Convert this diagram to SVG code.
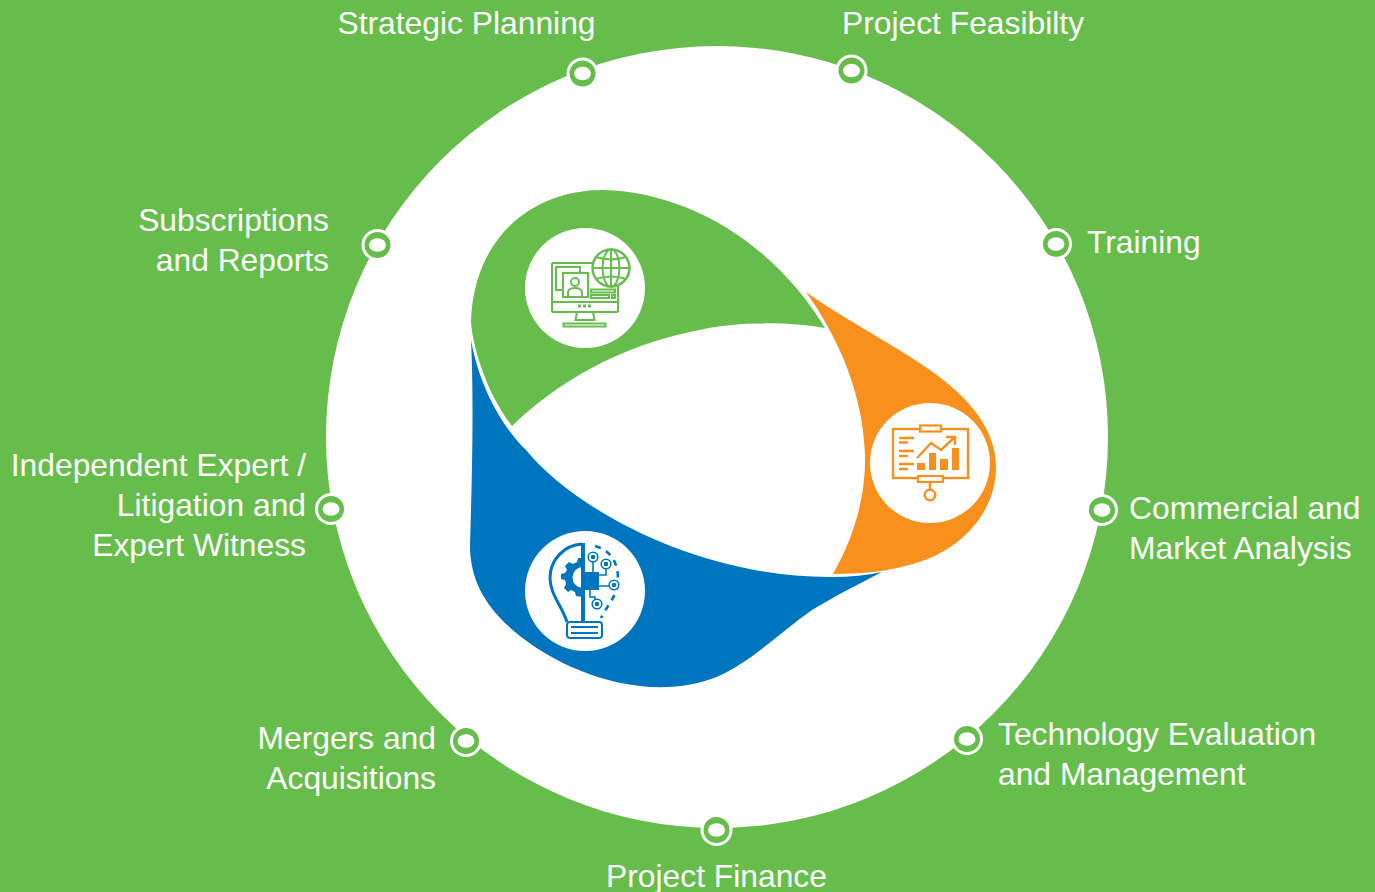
<svg xmlns="http://www.w3.org/2000/svg" width="1375" height="892" viewBox="0 0 1375 892">
<style>
.t{font-family:"Liberation Sans",Arial,sans-serif;font-size:31.800px;fill:#fff}
.e{text-anchor:end}
.m{text-anchor:middle}
.g{fill:none;stroke:#67bd4b;stroke-width:2}
.gf{fill:#fff;stroke:#67bd4b;stroke-width:2}
.o{fill:none;stroke:#f8901e;stroke-width:2.400}
.of{fill:#fff;stroke:#f8901e;stroke-width:2.200}
.ob{fill:#f8901e}
.b{fill:none;stroke:#0075bf;stroke-width:1.600}
.bf{fill:#fff;stroke:#0075bf;stroke-width:1.600}
.bc{fill:#0075bf}
</style>
<defs>
<g id="dot"><circle r="16" fill="#fff"/><circle r="13" fill="#67bd4b"/><ellipse rx="8.500" ry="6.800" fill="#fff"/></g>
<g id="node-c"><circle r="4.800" class="bf"/><circle r="2.300" class="bc"/></g>
</defs>
<rect width="1375" height="892" fill="#67bd4b"/>
<circle id="ring" cx="717" cy="437" r="391" fill="#fff"/>
<g id="blade-blue"><path d="M471 340C480 390 505 430 526 450C575 510 700 578 832 577Q860 577 882 572C855 586 835 596 812 610C775 636 745 668 708 680C640 702 560 670 515 632C485 606 470 580 470 545C472 480 474 400 471 340Z" fill="#0075bf"/></g>
<g id="blade-green"><path d="M512 426C488 395 473 350 471 322C473 240 530 190 603 190C690 192 775 245 825 328C790 322 740 320 690 332C620 347 560 380 512 426Z" fill="#67bd4b"/></g>
<g id="blade-orange"><path d="M806 292C845 320 890 342 930 370C970 398 996 430 996 467C996 510 965 545 925 560C895 571 865 574 833 574C855 535 866 495 865 455C863 395 840 340 806 292Z" fill="#f8901e"/></g>
<g id="icon-green">
<circle cx="585" cy="288" r="60" fill="#fff"/>
<rect x="552" y="263" width="66" height="49" rx="1" class="g"/>
<line x1="552" y1="302" x2="618" y2="302" class="g"/>
<rect x="556" y="267" width="24" height="23" class="g"/>
<rect x="563" y="273" width="25" height="24" class="gf"/>
<circle cx="575" cy="282" r="4" class="g"/>
<path d="M568 296v-4q1-4 7-4t7 4v4" class="g"/>
<rect x="591" y="289.500" width="24" height="3" class="g"/>
<rect x="591" y="295" width="18" height="3" class="g"/>
<rect x="612" y="295" width="3" height="3" class="g"/>
<rect x="578" y="304.500" width="3" height="3" fill="#67bd4b"/>
<rect x="583" y="304.500" width="3" height="3" fill="#67bd4b"/>
<rect x="588" y="304.500" width="3" height="3" fill="#67bd4b"/>
<path d="M577 312l-1.500 8h19l-1.500-8" class="g"/>
<rect x="563.500" y="323.500" width="42" height="3" class="g"/>
<circle cx="611" cy="268" r="18.500" fill="#fff" stroke="#67bd4b" stroke-width="2.400"/>
<ellipse cx="611" cy="268" rx="8.500" ry="18.500" class="g"/>
<line x1="611" y1="249.500" x2="611" y2="286.500" class="g"/>
<line x1="592.500" y1="268" x2="629.500" y2="268" class="g"/>
<path d="M596 257q15 5 30 0M596 279q15-5 30 0" class="g"/>
</g>
<g id="icon-orange">
<circle cx="930" cy="463" r="60" fill="#fff"/>
<rect x="893" y="429" width="75" height="49" class="o"/>
<rect x="920" y="425.500" width="21" height="6" class="of"/>
<rect x="918" y="476" width="25" height="6" class="of"/>
<line x1="930" y1="482" x2="930" y2="490" class="o"/>
<circle cx="930" cy="495" r="5.300" class="o"/>
<path d="M899 438h15M899 442.500h9M899 451h15M899 456h9M899 464h15M899 469h9" class="o"/>
<rect class="ob" x="917" y="463" width="8" height="7"/>
<rect class="ob" x="929" y="453" width="7" height="17"/>
<rect class="ob" x="940" y="459" width="8" height="11"/>
<rect class="ob" x="952" y="448" width="7" height="22"/>
<path d="M917 458l14-15 10 7 14-13M946 437h9v8" class="o"/>
</g>
<g id="icon-blue">
<circle cx="585" cy="591" r="60" fill="#fff"/>
<path d="M582 544C564 545 550 560 550 578C550 594 562 606 567 622" fill="none" stroke="#0075bf" stroke-width="3"/>
<line x1="583" y1="543" x2="583" y2="622" stroke="#0075bf" stroke-width="4"/>
<rect class="bc" x="583" y="572" width="16" height="18"/>
<path class="bc" d="M583 558h-5l-1 4-4 2-4-2-4 4 2 4-2 3-4 1v5l4 1 1 4-2 4 4 4 3-2 4 2 1 4 7 1v-9a10.500 10.500 0 0 1 0-21z"/>
<rect x="567" y="622" width="35" height="16" rx="3" fill="#fff" stroke="#0075bf" stroke-width="2"/>
<path d="M571 627h27M571 633h27" stroke="#0075bf" stroke-width="2.200"/>
<path d="M595 546C610 550 618 562 618 578C618 596 608 604 601 618" fill="none" stroke="#0075bf" stroke-width="2.600" stroke-dasharray="6 6"/>
<path class="b" d="M593 562v10M606 569v6h-7M610 586h-11M590 590v7h5v3"/>
<use href="#node-c" x="593" y="557"/>
<use href="#node-c" x="606" y="564"/>
<use href="#node-c" x="614" y="585"/>
<use href="#node-c" x="597" y="604"/>
</g>
<g id="connectors"></g>
<g id="n1"><use href="#dot" x="582.500" y="73.500"/><text class="t m" x="466.500" y="34">Strategic Planning</text></g>
<g id="n2"><use href="#dot" x="851.500" y="70.500"/><text class="t m" x="963" y="34">Project Feasibilty</text></g>
<g id="n3"><use href="#dot" x="1056" y="244"/><text class="t" x="1087" y="253">Training</text></g>
<g id="n4"><use href="#dot" x="1102" y="510"/><text class="t" x="1129" y="519">Commercial and</text><text class="t" x="1129" y="559">Market Analysis</text></g>
<g id="n5"><use href="#dot" x="967" y="739"/><text class="t" x="998" y="745">Technology Evaluation</text><text class="t" x="998" y="785">and Management</text></g>
<g id="n6"><use href="#dot" x="716.500" y="830"/><text class="t m" x="716.500" y="887">Project Finance</text></g>
<g id="n7"><use href="#dot" x="466" y="741"/><text class="t e" x="436" y="749">Mergers and</text><text class="t e" x="436" y="789">Acquisitions</text></g>
<g id="n8"><use href="#dot" x="331" y="509"/><text class="t e" x="306" y="476">Independent Expert /</text><text class="t e" x="306" y="516">Litigation and</text><text class="t e" x="306" y="556">Expert Witness</text></g>
<g id="n9"><use href="#dot" x="377.500" y="245"/><text class="t e" x="329" y="231">Subscriptions</text><text class="t e" x="329" y="271">and Reports</text></g>
</svg>
